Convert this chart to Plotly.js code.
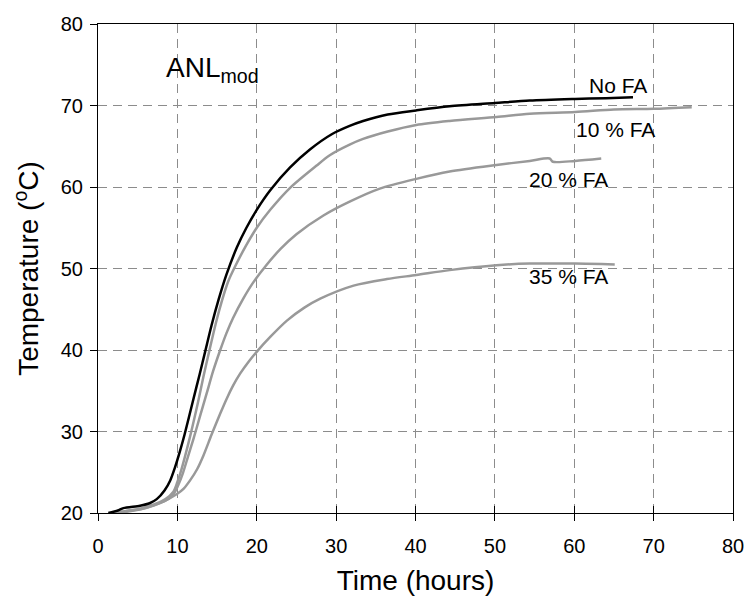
<!DOCTYPE html>
<html>
<head>
<meta charset="utf-8">
<script src="https://cdn.plot.ly/plotly-3.0.1.min.js"></script>
<style>html,body{margin:0;padding:0;background:#fff;}#chart{width:749px;height:601px;}</style>
</head>
<body>
<div id="chart"></div>
<script>
// No FA (black)
const noFA_t = [1.3, 2.5, 3.2, 5.3, 6.5, 7.4, 8.4, 9.1, 9.7, 10.3, 10.9, 12.0, 12.8, 13.5, 14.3, 15.2, 16.2, 17.5, 18.7, 20.0, 21.7, 24.2, 26.7, 29.5, 31.7, 33.4, 36.5, 40.1, 44.3, 50.0, 54.4, 60.1, 64.0, 67.4];
const noFA_T = [20.0, 20.3, 20.6, 20.9, 21.2, 21.7, 22.8, 24.0, 25.6, 27.5, 29.6, 33.9, 37.0, 39.8, 43.0, 46.2, 49.3, 52.6, 55.0, 57.2, 59.6, 62.4, 64.6, 66.5, 67.5, 68.1, 68.9, 69.4, 69.9, 70.3, 70.6, 70.8, 70.9, 71.0];
// 10 % FA
const fa10_t = [2.0, 4.0, 5.5, 7.2, 8.5, 9.5, 10.0, 10.5, 11.4, 12.6, 13.3, 14.0, 14.9, 15.6, 16.4, 17.3, 18.7, 20.0, 21.7, 24.2, 27.5, 29.2, 31.7, 33.4, 36.5, 40.1, 44.3, 50.2, 54.4, 60.1, 65.0, 70.0, 74.8];
const fa10_T = [20.0, 20.3, 20.6, 21.1, 21.7, 22.6, 23.8, 25.3, 28.6, 33.6, 36.8, 39.8, 43.5, 46.0, 48.4, 50.3, 52.9, 55.0, 57.2, 59.9, 62.6, 63.9, 65.2, 65.9, 66.8, 67.6, 68.1, 68.6, 69.0, 69.2, 69.5, 69.6, 69.8];
// 20 % FA
const fa20_t = [2.0, 4.0, 5.5, 7.2, 8.5, 9.5, 10.1, 10.7, 11.3, 12.0, 12.8, 13.7, 14.5, 15.4, 16.2, 17.0, 18.3, 19.5, 21.2, 23.0, 25.0, 28.4, 31.7, 35.5, 40.1, 44.3, 50.2, 54.4, 56.9, 57.3, 60.1, 63.4];
const fa20_T = [20.0, 20.3, 20.5, 21.0, 21.5, 22.3, 23.4, 24.9, 26.8, 29.0, 31.7, 34.7, 37.4, 40.0, 42.1, 43.9, 46.3, 48.2, 50.4, 52.4, 54.2, 56.5, 58.2, 59.8, 61.0, 61.9, 62.7, 63.2, 63.5, 63.1, 63.2, 63.5];
// 35 % FA
const fa35_t = [2.0, 4.0, 6.0, 7.8, 9.9, 10.8, 11.6, 12.5, 13.3, 14.3, 15.4, 16.2, 17.0, 17.9, 19.0, 20.1, 21.7, 23.8, 26.0, 28.0, 32.2, 36.4, 40.1, 44.3, 50.2, 54.4, 60.1, 65.1];
const fa35_T = [20.0, 20.2, 20.6, 21.2, 22.3, 23.0, 24.0, 25.4, 27.1, 29.6, 32.2, 34.0, 35.6, 37.1, 38.6, 39.9, 41.6, 43.6, 45.2, 46.3, 47.9, 48.7, 49.2, 49.8, 50.4, 50.6, 50.6, 50.5];

const xTicks = [0, 10, 20, 30, 40, 50, 60, 70, 80];
const yTicks = [20, 30, 40, 50, 60, 70, 80];

const labels = ['No FA', '10 % FA', '20 % FA', '35 % FA'];
const labelX = [65.5, 65.2, 59.3, 59.3];
const labelY = [72.5, 67.0, 60.9, 49.0];

const FONT = 'Liberation Sans, Arial, sans-serif';
const GRAY = '#999999';

const lineOpts = (c) => ({color: c, width: 2.5, shape: 'spline', smoothing: 0.8});

const traces = [
  {x: fa35_t, y: fa35_T, mode: 'lines', line: lineOpts(GRAY)},
  {x: fa20_t, y: fa20_T, mode: 'lines', line: lineOpts(GRAY)},
  {x: fa10_t, y: fa10_T, mode: 'lines', line: lineOpts(GRAY)},
  {x: noFA_t, y: noFA_T, mode: 'lines', line: lineOpts('#000000')}
];

const annotations = labels.map((s, i) => ({
  x: labelX[i], y: labelY[i], xref: 'x', yref: 'y', text: s, showarrow: false,
  xanchor: 'center', yanchor: 'middle', font: {family: FONT, size: 21, color: '#000'}
}));
annotations.push({
  x: 8.3, y: 74.4, xref: 'x', yref: 'y', text: 'ANL<sub>mod</sub>', showarrow: false,
  xanchor: 'left', yanchor: 'middle', font: {family: FONT, size: 28, color: '#000'}
});

const gridStyle = {showgrid: true, gridcolor: '#8c8c8c', gridwidth: 1, griddash: '9px,6px'};

const layout = {
  width: 749, height: 601,
  margin: {l: 98, r: 16, t: 24, b: 88},
  paper_bgcolor: '#ffffff', plot_bgcolor: '#ffffff',
  showlegend: false,
  font: {family: FONT, color: '#000'},
  xaxis: Object.assign({
    range: [0, 80], tickvals: xTicks, ticktext: xTicks.map(String),
    ticks: 'outside', ticklen: 7, tickcolor: '#000', tickwidth: 1,
    ticklabelstandoff: 8,
    showline: true, linecolor: '#000', linewidth: 1, mirror: true, zeroline: false,
    tickfont: {family: FONT, size: 20, color: '#000'},
    title: {text: 'Time (hours)', font: {family: FONT, size: 28, color: '#000'}, standoff: 14}
  }, gridStyle),
  xaxis2: {
    overlaying: 'x', matches: 'x', range: [0, 80], tickvals: xTicks,
    ticks: 'inside', ticklen: 7, tickcolor: '#000', tickwidth: 1,
    showticklabels: false, showgrid: false, showline: false, zeroline: false, side: 'bottom'
  },
  yaxis: Object.assign({
    range: [20, 80], tickvals: yTicks, ticktext: yTicks.map(String),
    ticks: 'outside', ticklen: 7, tickcolor: '#000', tickwidth: 1,
    ticklabelstandoff: 3,
    showline: true, linecolor: '#000', linewidth: 1, mirror: true, zeroline: false,
    tickfont: {family: FONT, size: 20, color: '#000'},
    title: {text: 'Temperature (<sup>o</sup>C)', font: {family: FONT, size: 28, color: '#000'}, standoff: 13}
  }, gridStyle),
  annotations: annotations
};

traces.push({x: [0, 80], y: [20, 20], xaxis: 'x2', yaxis: 'y', mode: 'lines', line: {width: 0}, hoverinfo: 'skip', showlegend: false});

Plotly.newPlot('chart', traces, layout, {displayModeBar: false, staticPlot: true});
</script>
</body>
</html>
